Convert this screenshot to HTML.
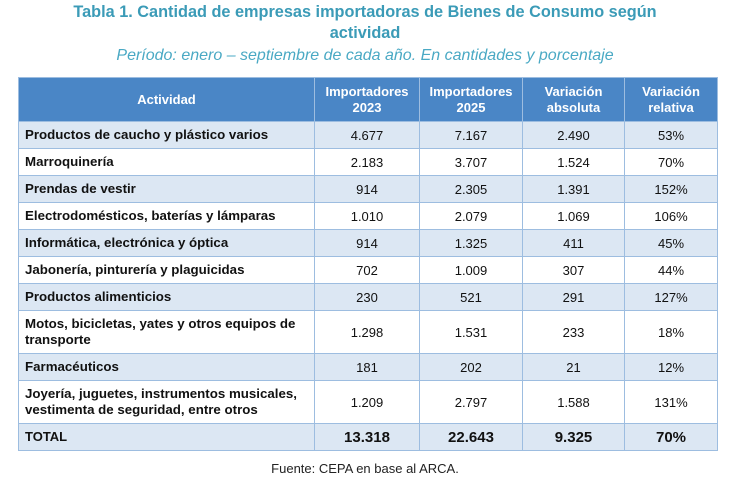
<!DOCTYPE html>
<html><head><meta charset="utf-8"><style>
body{margin:0;width:730px;height:479px;background:#fff;font-family:"Liberation Sans",sans-serif;position:relative;overflow:hidden}
.t{position:absolute;left:0;width:730px;text-align:center;color:#3b9bb7}
table{position:absolute;left:18px;top:77px;width:699px;border-collapse:collapse;table-layout:fixed;font-size:13px;color:#111}
td,th{border:1px solid #9dbde0;padding:0 6px;text-align:center}
th{background:#4a86c6;color:#fff;font-weight:bold;height:43px;line-height:16px;font-size:13px}
td{height:26px}
td:first-child{text-align:left;font-weight:bold;line-height:16px;font-size:13.3px;padding-right:2px}
tr.a td{background:#dce7f3}
tr.h2 td{height:42px}
tr.tot td{font-weight:bold;font-size:15px}
tr.tot td:first-child{font-size:13px}
</style></head><body>
<div class="t" style="top:2px;font-size:16.3px;font-weight:bold;line-height:21px">Tabla 1. Cantidad de empresas importadoras de Bienes de Consumo según<br>actividad</div>
<div class="t" style="top:47px;font-size:16px;font-style:italic;color:#4aa9c4">Período: enero – septiembre de cada año. En cantidades y porcentaje</div>
<table>
<colgroup><col style="width:296px"><col style="width:105px"><col style="width:103px"><col style="width:102px"><col style="width:93px"></colgroup>
<tr><th>Actividad</th><th>Importadores<br>2023</th><th>Importadores<br>2025</th><th>Variación<br>absoluta</th><th>Variación<br>relativa</th></tr>
<tr class="a"><td>Productos de caucho y plástico varios</td><td>4.677</td><td>7.167</td><td>2.490</td><td>53%</td></tr>
<tr><td>Marroquinería</td><td>2.183</td><td>3.707</td><td>1.524</td><td>70%</td></tr>
<tr class="a"><td>Prendas de vestir</td><td>914</td><td>2.305</td><td>1.391</td><td>152%</td></tr>
<tr><td>Electrodomésticos, baterías y lámparas</td><td>1.010</td><td>2.079</td><td>1.069</td><td>106%</td></tr>
<tr class="a"><td>Informática, electrónica y óptica</td><td>914</td><td>1.325</td><td>411</td><td>45%</td></tr>
<tr><td>Jabonería, pinturería y plaguicidas</td><td>702</td><td>1.009</td><td>307</td><td>44%</td></tr>
<tr class="a"><td>Productos alimenticios</td><td>230</td><td>521</td><td>291</td><td>127%</td></tr>
<tr class="h2"><td>Motos, bicicletas, yates y otros equipos de transporte</td><td>1.298</td><td>1.531</td><td>233</td><td>18%</td></tr>
<tr class="a"><td>Farmacéuticos</td><td>181</td><td>202</td><td>21</td><td>12%</td></tr>
<tr class="h2"><td>Joyería, juguetes, instrumentos musicales, vestimenta de seguridad, entre otros</td><td>1.209</td><td>2.797</td><td>1.588</td><td>131%</td></tr>
<tr class="a tot"><td>TOTAL</td><td>13.318</td><td>22.643</td><td>9.325</td><td>70%</td></tr>
</table>
<div class="t" style="top:461px;font-size:13px;color:#222">Fuente: CEPA en base al ARCA.</div>
</body></html>
